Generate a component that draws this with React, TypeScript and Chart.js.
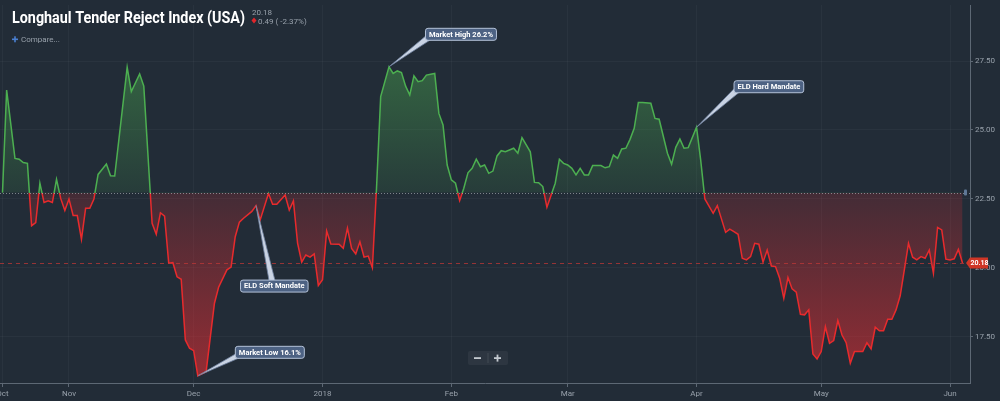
import React, { useEffect, useRef } from "react";
import { Chart, registerables } from "chart.js";

Chart.register(...registerables);

// ---- data ----
const START_DATE = "2017-10-15"; // day 0
const dayOffsets = [
  1, 2, 4, 5, 6, 7, 8, 9, 10, 11, 12, 13, 14, 15, 16, 17, 18, 19, 20, 21, 22, 23, 24, 25, 26, 27, 28,
  31, 32, 34, 35, 37, 38, 39, 40, 41, 42, 43, 44, 45, 46, 47, 48, 50, 52, 53, 55, 56, 57, 58, 59,
  61, 62, 63, 65, 66, 67, 69, 70, 71, 72, 73, 74, 75, 76, 77, 78, 79, 80, 82, 83, 84, 85, 86, 87,
  88, 89, 90, 91, 92, 94, 95, 96, 97, 98, 99, 100, 101, 102, 103, 105, 106, 107, 108, 109, 110,
  111, 112, 113, 114, 115, 116, 117, 118, 119, 120, 121, 122, 124, 125, 126, 128, 129, 130, 131,
  132, 134, 135, 136, 137, 138, 139, 140, 141, 142, 143, 145, 146, 147, 148, 149, 150, 151, 152,
  153, 154, 155, 157, 158, 159, 161, 162, 163, 164, 165, 166, 168, 169, 170, 172, 173, 175, 176,
  177, 178, 179, 180, 181, 182, 183, 184, 185, 186, 187, 188, 189, 190, 191, 192, 193, 194, 195,
  196, 197, 198, 199, 200, 201, 202, 203, 204, 205, 206, 208, 209, 210, 211, 212, 213, 214, 215,
  216, 217, 218, 219, 220, 221, 222, 223, 224, 225, 226, 227, 228, 229, 230, 231, 232,
];
const values = [
  22.73, 26.45, 23.97, 23.94, 23.82, 23.79, 21.53, 21.64, 23.07, 22.37, 22.43, 22.37, 23.21, 22.52,
  22.08, 22.5, 21.9, 21.9, 21.04, 22.16, 22.16, 22.5, 23.39, 23.58, 23.77, 23.34, 23.33,
  27.27, 26.39, 27.03, 26.59, 21.62, 21.22, 22.0, 21.88, 20.17, 20.19, 19.68, 19.59, 17.39, 17.09,
  17.0, 16.09, 16.24, 18.72, 19.3, 19.93, 20.03, 21.13, 21.66, 21.8,
  22.05, 22.26, 21.74, 22.7, 22.31, 22.31, 22.64, 22.1, 22.43, 20.9, 20.21, 20.47, 20.39, 20.51,
  19.36, 19.57, 21.34, 20.87, 20.86, 20.71, 21.44, 20.71, 20.51, 20.95,
  20.39, 20.43, 20.01, 22.9, 26.21, 27.29, 27.05, 27.14, 27.08, 26.59, 26.27, 26.96, 26.75, 26.79,
  26.99, 27.05, 25.6, 25.18, 23.73, 23.19, 23.07,
  22.44, 22.89, 23.45, 23.61, 23.94, 23.67, 23.73, 23.43, 23.51, 24.06, 24.25, 24.21, 24.34, 24.16,
  24.72, 24.21, 23.1, 23.09, 22.95,
  22.2, 23.07, 23.94, 23.79, 23.73, 23.61, 23.37, 23.61, 23.37, 23.37, 23.71, 23.71, 23.63, 23.67,
  24.09, 23.97, 24.31, 24.34, 24.66,
  25.06, 26.0, 26.0, 25.97, 25.42, 25.39, 24.16, 23.76, 24.37, 24.67, 24.34, 24.36, 25.1, 23.91,
  22.5, 21.98, 22.26, 21.29, 21.41,
  21.32, 21.22, 20.35, 20.29, 20.41, 20.89, 20.86, 20.21, 20.65, 20.07, 20.05, 19.63, 18.9, 19.65,
  19.24, 19.12, 18.32, 18.3, 18.48,
  16.88, 16.7, 16.97, 17.87, 17.27, 17.37, 18.09, 17.57, 17.29, 16.55, 16.97, 16.97, 17.29, 17.07,
  17.85, 17.72, 17.72, 18.14, 18.14,
  18.48, 18.99, 19.93, 20.89, 20.39, 20.29, 20.41, 20.35, 20.65, 19.81, 21.47, 21.38, 20.32, 20.29,
  20.33, 20.67, 20.18,
];
const xTickDays = [1, 17, 47, 78, 109, 137, 168, 198, 229];
const xTickLabels = ["Oct", "Nov", "Dec", "2018", "Feb", "Mar", "Apr", "May", "Jun"];
const yTickValues = [17.5, 20, 22.5, 25, 27.5];

const TITLE = "Longhaul Tender Reject Index (USA)";

// annotation: day of the marked point, its label, placement of the box relative to the point
const annotations = [
  { day: 94, text: "Market High 26.2%", dx: 36, dy: -39, anchor: "bottomLeft" },
  { day: 48, text: "Market Low 16.1%", dx: 37, dy: -30, anchor: "bottomLeft" },
  { day: 62, text: "ELD Soft Mandate", dx: -16, dy: 74, anchor: "top" },
  { day: 168, text: "ELD Hard Mandate", dx: 37, dy: -47, anchor: "bottomLeft" },
];

// ---- styling ----
const BG = "#222c37";
const GREEN = "rgb(76,175,80)";
const RED = "rgb(232,42,44)";
const AXIS = "#5d6874";
const LABEL = "#98a1ab";
const FONT = "Roboto";

function rr(ctx: CanvasRenderingContext2D, x: number, y: number, w: number, h: number, r: number) {
  ctx.beginPath();
  ctx.moveTo(x + r, y);
  ctx.lineTo(x + w - r, y);
  ctx.quadraticCurveTo(x + w, y, x + w, y + r);
  ctx.lineTo(x + w, y + h - r);
  ctx.quadraticCurveTo(x + w, y + h, x + w - r, y + h);
  ctx.lineTo(x + r, y + h);
  ctx.quadraticCurveTo(x, y + h, x, y + h - r);
  ctx.lineTo(x, y + r);
  ctx.quadraticCurveTo(x, y, x + r, y);
  ctx.closePath();
}

export default function App() {
  const ref = useRef<HTMLCanvasElement>(null);

  useEffect(() => {
    document.body.style.margin = "0";
    document.body.style.background = BG;
    const canvas = ref.current!;
    const baseline = values[0];
    const last = values[values.length - 1];
    const prev = values[values.length - 2];
    const vMax = Math.max(...values);
    const vMin = Math.min(...values);
    const points = dayOffsets.map((d, i) => ({ x: d, y: values[i] }));

    const overlay = {
      id: "overlay",
      beforeDraw(chart: any) {
        const ctx = chart.ctx;
        ctx.save();
        ctx.fillStyle = BG;
        ctx.fillRect(0, 0, chart.width, chart.height);
        ctx.restore();
      },
      afterDatasetsDraw(chart: any) {
        const ctx: CanvasRenderingContext2D = chart.ctx;
        const a = chart.chartArea;
        const ys = chart.scales.y;
        ctx.save();
        const by = ys.getPixelForValue(baseline);
        ctx.strokeStyle = "rgba(200,205,210,0.55)";
        ctx.lineWidth = 1;
        ctx.setLineDash([1, 2]);
        ctx.beginPath();
        ctx.moveTo(a.left, Math.round(by) + 0.5);
        ctx.lineTo(a.right, Math.round(by) + 0.5);
        ctx.stroke();
        const ly = ys.getPixelForValue(last);
        ctx.strokeStyle = "rgba(190,55,55,0.75)";
        ctx.setLineDash([4, 4]);
        ctx.beginPath();
        ctx.moveTo(a.left, Math.round(ly) + 0.5);
        ctx.lineTo(a.right, Math.round(ly) + 0.5);
        ctx.stroke();
        ctx.setLineDash([]);
        ctx.fillStyle = "#5f7896";
        rr(ctx, a.right - 6, by - 3, 3, 6, 1);
        ctx.fill();
        ctx.restore();
      },
      afterDraw(chart: any) {
        const ctx: CanvasRenderingContext2D = chart.ctx;
        const a = chart.chartArea;
        const xs = chart.scales.x;
        const ys = chart.scales.y;
        ctx.save();

        // title block
        ctx.textBaseline = "alphabetic";
        ctx.fillStyle = "#ffffff";
        ctx.font = `bold 16px ${FONT}`;
        ctx.fillText(TITLE, 12, 22.5, 233);
        ctx.font = `8px ${FONT}`;
        ctx.fillStyle = LABEL;
        ctx.fillText(last.toFixed(2), 252, 15);
        const ch = last - prev;
        const pct = (ch / prev) * 100;
        ctx.fillText(`${Math.abs(ch).toFixed(2)} ( ${pct.toFixed(2)}%)`, 258, 23.5);
        ctx.fillStyle = "#e0262b";
        ctx.beginPath();
        ctx.moveTo(254, 17.5);
        ctx.lineTo(256.5, 20.5);
        ctx.lineTo(254, 23.5);
        ctx.lineTo(251.5, 20.5);
        ctx.closePath();
        ctx.fill();
        ctx.fillStyle = "#4a7fd0";
        ctx.fillRect(12, 38.5, 6, 1.6);
        ctx.fillRect(14.2, 36.3, 1.6, 6);
        ctx.fillStyle = LABEL;
        ctx.font = `8px ${FONT}`;
        ctx.fillText("Compare...", 21, 42);

        // annotations
        for (const an of annotations) {
          const i = dayOffsets.indexOf(an.day);
          const px = xs.getPixelForValue(an.day);
          const py = ys.getPixelForValue(values[i]);
          ctx.font = `bold 7.5px ${FONT}`;
          const tw = ctx.measureText(an.text).width;
          const bw = tw + 7;
          const bh = 12;
          const bx = px + an.dx;
          const byy = py + an.dy;
          let p1: [number, number], p2: [number, number];
          if (an.anchor === "top") {
            p1 = [bx + 29, byy + 1];
            p2 = [bx + 35, byy + 1];
          } else {
            p1 = [bx + 1, byy + bh - 4];
            p2 = [bx + 7, byy + bh - 1];
          }
          ctx.beginPath();
          ctx.moveTo(px, py);
          ctx.lineTo(p1[0], p1[1]);
          ctx.lineTo(p2[0], p2[1]);
          ctx.closePath();
          ctx.fillStyle = "#c9d3e3";
          ctx.fill();
          ctx.strokeStyle = "#6e809e";
          ctx.lineWidth = 0.8;
          ctx.stroke();
          rr(ctx, bx + 0.5, byy + 0.5, bw, bh, 2.5);
          ctx.fillStyle = "#4d6283";
          ctx.fill();
          ctx.strokeStyle = "#b4c2d8";
          ctx.lineWidth = 1;
          ctx.stroke();
          ctx.fillStyle = "#ffffff";
          ctx.textBaseline = "middle";
          ctx.fillText(an.text, bx + 4, byy + bh / 2 + 1);
          ctx.textBaseline = "alphabetic";
        }

        // last price tag
        const ly = ys.getPixelForValue(last);
        ctx.fillStyle = "#cf3626";
        ctx.beginPath();
        ctx.moveTo(a.right - 4, ly);
        ctx.lineTo(a.right, ly - 5.5);
        ctx.lineTo(a.right + 18, ly - 5.5);
        ctx.lineTo(a.right + 18, ly + 5.5);
        ctx.lineTo(a.right, ly + 5.5);
        ctx.closePath();
        ctx.fill();
        ctx.fillStyle = "#ffffff";
        ctx.font = `bold 7px ${FONT}`;
        ctx.textBaseline = "middle";
        ctx.fillText(last.toFixed(2), a.right + 0.5, ly + 0.5);

        // zoom buttons
        const cx = (a.left + a.right) / 2 + 3;
        const top = a.bottom - 32;
        rr(ctx, cx - 20, top, 40, 14, 2);
        ctx.fillStyle = "rgba(255,255,255,0.05)";
        ctx.fill();
        ctx.fillStyle = "rgba(255,255,255,0.1)";
        ctx.fillRect(cx - 0.5, top + 2, 1, 10);
        ctx.fillStyle = "#c3c9cf";
        ctx.fillRect(cx - 14, top + 6.2, 7, 1.8);
        ctx.fillRect(cx + 6, top + 6.2, 7, 1.8);
        ctx.fillRect(cx + 8.6, top + 3.6, 1.8, 7);
        ctx.restore();
      },
    };

    const chart = new Chart(canvas, {
      type: "line",
      data: {
        datasets: [
          {
            label: TITLE,
            data: points,
            borderWidth: 1.5,
            pointRadius: 0,
            tension: 0,
            fill: { value: baseline } as any,
            borderColor: (c: any) => {
              const chrt = c.chart;
              const ar = chrt.chartArea;
              if (!ar) return GREEN;
              const y = chrt.scales.y.getPixelForValue(baseline);
              const f = Math.min(1, Math.max(0, (y - ar.top) / (ar.bottom - ar.top)));
              const g = chrt.ctx.createLinearGradient(0, ar.top, 0, ar.bottom);
              g.addColorStop(0, GREEN);
              g.addColorStop(f, GREEN);
              g.addColorStop(f, RED);
              g.addColorStop(1, RED);
              return g;
            },
            backgroundColor: (c: any) => {
              const chrt = c.chart;
              const ar = chrt.chartArea;
              if (!ar) return "rgba(0,0,0,0)";
              const ys = chrt.scales.y;
              const h = ar.bottom - ar.top;
              const cl = (v: number) => Math.min(1, Math.max(0, v));
              const f = cl((ys.getPixelForValue(baseline) - ar.top) / h);
              const fMax = cl((ys.getPixelForValue(vMax) - ar.top) / h);
              const fMin = cl((ys.getPixelForValue(vMin) - ar.top) / h);
              const g = chrt.ctx.createLinearGradient(0, ar.top, 0, ar.bottom);
              g.addColorStop(0, "rgba(76,175,80,0.45)");
              g.addColorStop(fMax, "rgba(76,175,80,0.42)");
              g.addColorStop(f, "rgba(76,175,80,0.12)");
              g.addColorStop(f, "rgba(229,45,50,0.17)");
              g.addColorStop(fMin, "rgba(229,45,50,0.58)");
              g.addColorStop(1, "rgba(229,45,50,0.58)");
              return g;
            },
          },
        ],
      },
      options: {
        responsive: false,
        animation: false,
        events: [],
        layout: { padding: { top: 5, left: 0, right: 0, bottom: 0 } },
        plugins: { legend: { display: false }, tooltip: { enabled: false }, title: { display: false } },
        scales: {
          x: {
            type: "linear",
            min: 0.4,
            max: 233.8,
            afterBuildTicks: (s: any) => {
              s.ticks = xTickDays.map((v) => ({ value: v }));
            },
            afterFit: (s: any) => {
              s.height = 18;
              s.paddingLeft = 0;
              s.paddingRight = 0;
            },
            ticks: {
              callback: (_v: any, i: number) => xTickLabels[i],
              color: LABEL,
              font: { family: FONT, size: 8 },
              maxRotation: 0,
              autoSkip: false,
              padding: 2,
            },
            grid: { color: "rgba(255,255,255,0.035)", tickColor: AXIS, tickLength: 4 },
            border: { color: AXIS, width: 1 },
          },
          y: {
            position: "right",
            min: 15.83,
            max: 29.53,
            afterBuildTicks: (s: any) => {
              s.ticks = yTickValues.map((v) => ({ value: v }));
            },
            afterFit: (s: any) => {
              s.width = 30;
              s.paddingTop = 0;
              s.paddingBottom = 0;
            },
            ticks: {
              callback: (v: any) => Number(v).toFixed(2),
              color: LABEL,
              font: { family: FONT, size: 8 },
              padding: 2,
            },
            grid: { color: "rgba(255,255,255,0.035)", tickColor: AXIS, tickLength: 3 },
            border: { color: AXIS, width: 1 },
          },
        },
      } as any,
      plugins: [overlay],
    });
    return () => chart.destroy();
  }, []);

  return <canvas ref={ref} width={1000} height={401} style={{ display: "block" }} />;
}
